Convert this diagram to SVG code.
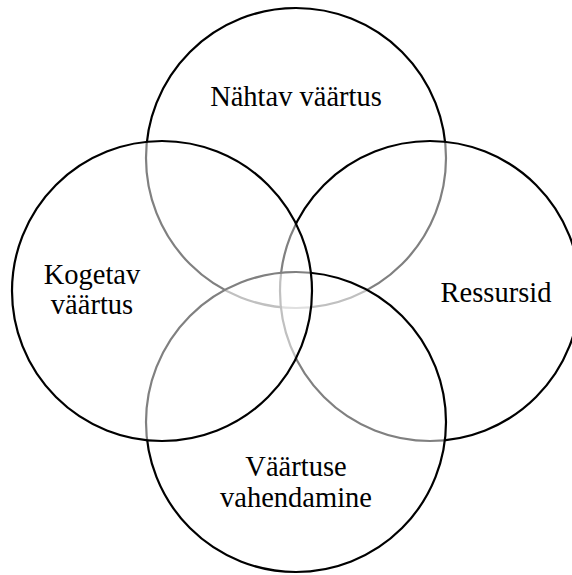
<svg xmlns="http://www.w3.org/2000/svg" width="572" height="575" viewBox="0 0 572 575">
<style>
.c{fill:#fff;fill-opacity:0.5;stroke:#000;stroke-width:2.2}
text{font-family:"Liberation Serif","Times New Roman",serif;font-size:28.5px;fill:#000;text-anchor:middle}
</style>
<rect width="572" height="575" fill="#fff"/>
<g id="node-nahtav">
<circle class="c" cx="296" cy="158" r="150"/>
<text x="296" y="106">Nähtav väärtus</text>
</g>
<g id="node-ressursid">
<circle class="c" cx="430" cy="291" r="150"/>
<text x="496" y="302">Ressursid</text>
</g>
<g id="node-vahendamine">
<circle class="c" cx="296" cy="422" r="150"/>
<text x="296" y="476">Väärtuse</text>
<text x="296" y="507">vahendamine</text>
</g>
<g id="node-kogetav">
<circle class="c" cx="162" cy="291" r="150"/>
<text x="92" y="284">Kogetav</text>
<text x="92" y="314">väärtus</text>
</g>
<g id="connectors"></g>
</svg>
